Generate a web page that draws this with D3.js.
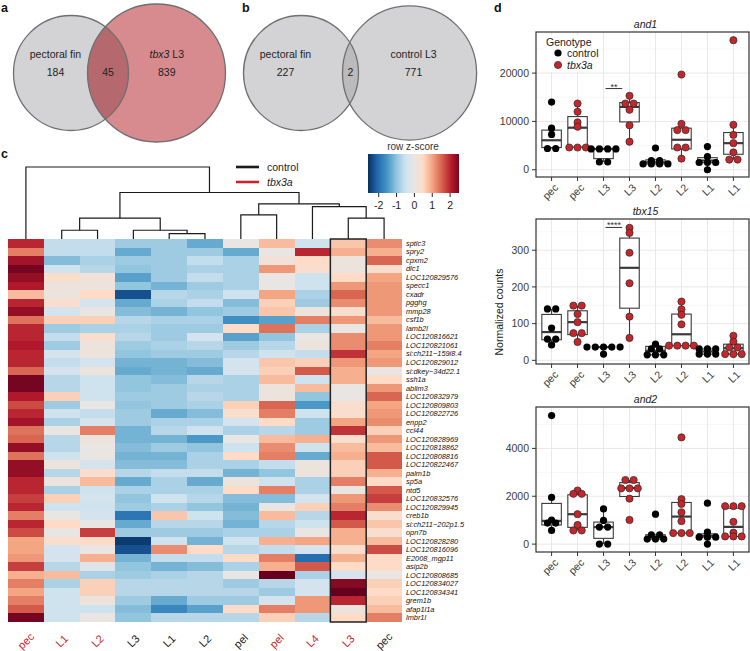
<!DOCTYPE html>
<html>
<head>
<meta charset="utf-8">
<style>
    body { margin: 0; background: #fff; }
    svg { display: block; font-family: 'Liberation Sans', Arial, Helvetica, sans-serif; }
</style>
</head>
<body>
<svg width="750" height="651"></svg>

<script src="https://d3js.org/d3.v7.min.js"></script>
<script>
    // ---------- data ----------
    // venn diagrams: [left only, shared, right only]
    const vennSetsA = ["pectoral fin", "tbx3 L3"];
    const vennCountsA = [184, 45, 839];
    const vennSetsB = ["pectoral fin", "control L3"];
    const vennCountsB = [227, 2, 771];

    // heatmap
    const heatCols = ["pec", "L1", "L2", "L3", "L1", "L2", "pel", "pel", "L4", "L3", "pec"];
    const heatGeno = ["tbx3a", "tbx3a", "tbx3a", "control", "control", "control", "control", "tbx3a", "tbx3a", "tbx3a", "control"];
    const heatGenes = ["sptlc3", "spry2", "cpxm2", "dlc1", "LOC120829576", "specc1", "cxadr", "pgghg", "mmp28", "csf1b",
        "lamb2l", "LOC120816621", "LOC120821061", "si:ch211\u2212159i8.4", "LOC120829012", "si:dkey\u221234d22.1", "ssh1a",
        "ablim3", "LOC120832979", "LOC120809803", "LOC120822726", "enpp2", "ccl44", "LOC120828969", "LOC120818862",
        "LOC120808816", "LOC120822467", "palm1b", "sp5a", "ntd5", "LOC120832576", "LOC120829945", "creb1b",
        "si:ch211\u2212202p1.5", "opn7b", "LOC120828280", "LOC120816096", "E2008_mgp11", "asip2b", "LOC120808685",
        "LOC120834027", "LOC120834341", "grem1b", "afap1l1a", "lmbr1l"];
    const zScores = [
        [2.0, -0.6, -0.6, -0.9, -0.9, -1.3, 0.0, 0.8, -0.5, 0.7, 1.2],
        [1.3, -0.6, -0.6, -1.3, -0.9, -0.9, -1.3, 0.0, 2.0, 0.9, 0.9],
        [2.2, -1.1, -0.8, -0.9, -0.9, -0.6, -0.8, 0.2, 0.5, 0.1, 1.5],
        [2.5, -0.5, -0.7, -1.0, -0.9, -0.8, -0.8, 1.1, 0.4, 0.1, 0.4],
        [2.3, 0.4, 0.2, -1.4, -0.9, -0.6, -0.8, 0.0, -0.5, 0.5, 1.0],
        [2.1, 0.1, 0.1, -1.0, -1.2, -0.9, -0.8, 0.0, -0.5, 1.1, 1.1],
        [0.8, 0.1, 0.5, -2.3, -0.7, -0.8, -0.5, 1.0, -0.8, 1.5, 1.1],
        [2.0, 0.4, -0.4, -1.3, -0.8, -0.6, -1.1, 0.6, -0.9, 1.2, 1.1],
        [2.3, -0.4, 0.0, -1.1, -1.2, -1.0, -0.9, 0.7, 0.1, 0.4, 1.1],
        [1.4, 0.6, 0.6, -0.7, -0.8, -0.8, -1.6, -1.4, 1.3, 1.1, 0.8],
        [2.0, -0.9, -0.8, -0.8, -0.9, -0.9, 0.5, 1.4, -0.8, 0.0, 1.1],
        [2.0, -0.6, 0.4, -0.7, -0.9, -0.4, -1.4, -1.0, 0.0, 1.2, 1.1],
        [2.1, -0.9, 0.1, -0.9, -0.8, -0.7, -0.9, -0.7, 0.1, 1.2, 1.3],
        [2.0, -0.4, 0.1, -1.0, -0.9, -0.9, -0.7, -0.5, -0.6, 1.9, 1.0],
        [2.0, -0.6, -0.4, -1.2, -1.2, -1.1, -0.4, 0.7, 0.6, 1.1, 1.1],
        [1.5, -0.4, 0.1, -1.3, -1.2, -1.3, -0.4, 0.6, 1.6, 0.9, 0.0],
        [2.5, -0.7, -0.5, -1.0, -1.1, -0.7, -0.8, 0.8, -0.5, 0.9, 0.5],
        [2.5, -0.7, -0.5, -1.0, -0.9, -0.8, -0.8, 0.1, 0.8, 0.0, 1.1],
        [2.1, 0.6, -0.5, -0.9, -0.9, -0.7, -0.8, 0.1, -1.0, 0.0, 1.5],
        [1.7, -0.9, 0.0, -1.0, -0.9, -0.8, 0.6, 1.5, -1.5, 0.4, 1.0],
        [2.0, -0.5, -0.6, -0.9, -1.3, -1.1, 0.4, 1.3, -0.5, 0.4, 1.1],
        [2.2, -0.8, -0.4, -0.9, -0.8, -0.8, -0.4, 0.5, -0.9, 1.0, 1.2],
        [1.4, 0.0, 1.3, -1.2, -0.7, -0.5, -0.8, -0.7, -0.9, 1.9, 0.6],
        [1.5, -0.7, 0.1, -1.2, -1.2, -1.5, 0.0, 0.8, 0.9, 0.4, 1.1],
        [2.3, -0.7, 0.0, -1.1, -0.9, -1.0, -0.5, 1.2, -0.5, 0.8, 0.8],
        [1.4, -0.5, 0.0, -1.2, -1.2, -0.8, 0.5, 1.3, -1.3, 0.9, 1.6],
        [2.3, 0.1, -0.4, -1.1, -1.1, -0.8, -0.8, -0.6, 0.1, 0.6, 1.6],
        [2.3, -0.7, 0.4, -0.7, -0.6, -0.6, -1.2, -1.0, 0.1, 0.6, 0.9],
        [2.0, 0.1, 0.8, -1.3, -0.8, -1.3, 0.1, -0.5, -0.8, 1.3, 0.5],
        [2.0, -0.8, -0.5, -0.8, -0.8, -0.8, 0.5, 1.3, -0.8, 0.0, 1.6],
        [1.8, 0.6, -0.4, -1.0, -0.5, -0.7, -1.1, -1.1, -0.4, 1.1, 1.8],
        [2.0, -0.5, -0.5, -0.9, -0.8, -1.0, -1.2, 0.0, 0.6, 1.3, 1.2],
        [1.3, 0.0, -0.4, -1.9, 0.7, -0.5, -1.1, 0.8, -0.7, 2.0, 0.4],
        [2.0, 0.5, 0.0, -1.3, -0.7, -0.7, -1.2, -0.7, -0.5, 1.6, 0.7],
        [1.7, 0.0, 1.8, -0.9, -0.9, -0.9, -0.8, -0.8, 0.0, 0.9, 0.4],
        [1.0, 0.4, 0.5, -2.5, -0.5, -1.2, -0.5, 0.9, 1.0, 0.9, 0.8],
        [1.0, -0.4, 0.0, -2.3, 1.2, 0.5, -0.7, -0.6, -0.4, 0.4, 1.7],
        [1.1, -0.4, 0.9, -1.2, -0.6, -0.6, 0.5, 1.3, -2.0, 0.9, 0.5],
        [1.8, -0.7, -0.2, -1.0, -1.2, -1.1, -0.8, 0.9, 1.6, 0.5, 0.5],
        [0.9, 0.8, -0.8, -0.9, -0.8, -0.7, 0.0, 2.6, -0.8, -0.4, 0.0],
        [1.3, -0.8, 0.6, -0.7, -0.7, -0.7, -0.9, -0.7, -0.4, 2.4, 0.6],
        [1.0, -0.5, 0.6, -0.7, -0.7, -0.7, -0.7, -0.9, -0.4, 2.6, 0.5],
        [1.3, -0.5, 0.1, -0.9, -1.3, -0.9, -0.9, -0.4, 1.1, 2.0, 0.6],
        [1.6, -0.5, -0.5, -1.1, -1.7, -1.4, 0.5, 1.3, 1.1, 0.1, 0.8],
        [2.5, -0.5, 0.0, -1.0, -0.7, -0.7, -0.7, 0.6, -0.7, 0.5, 1.3]
    ];
    // column dendrogram, hclust style: negative = leaf (column), positive = earlier merge
    const colMerges = [
        [-5, -6, 5.3], [-2, -3, 8.7], [-4, 1, 8.7], [2, 3, 20.7], [-10, -11, 20.7],
        [-7, -8, 24], [-9, 5, 32.3], [6, 7, 35], [4, 8, 46.3], [-1, 9, 71.7]
    ];
    const zTicks = [-2, -1, 0, 1, 2];

    // panel d
    const dGenes = ["and1", "tbx15", "and2"];
    const dGroups = ["pec", "pec", "L3", "L3", "L2", "L2", "L1", "L1"];
    const dGeno = ["control", "tbx3a", "control", "tbx3a", "control", "tbx3a", "control", "tbx3a"];
    const and1Points = [
        [14000, 8600, 7300, 4400, 4400],
        [13700, 12000, 9800, 8900, 4600, 4600, 4600],
        [4300, 4300, 4300, 4300, 1600, 1600],
        [15300, 13700, 13700, 12400, 9200, 5800],
        [4500, 1900, 1900, 1200, 1200, 1200, 1200],
        [19700, 9500, 8200, 8200, 4600, 4600, 2300],
        [4800, 2700, 1500, 1500, 1500, 0],
        [26800, 9300, 7200, 5500, 3600, 2100, 2100]
    ];
    // [lower whisker, q1, median, q3, upper whisker]
    const and1Box = [
        [4400, 4600, 6100, 8200, 8600], [4600, 4700, 8700, 11000, 13700],
        [1600, 2300, 4300, 4300, 4300], [5800, 9900, 13000, 13900, 15300],
        [1200, 1200, 1550, 2050, 2100], [2300, 4300, 6200, 8600, 9500],
        [0, 1450, 1900, 2500, 2700], [2100, 3200, 5500, 7700, 9300]
    ];
    const tbx15Points = [
        [140, 140, 88, 58, 58, 42],
        [149, 149, 126, 104, 74, 74, 50],
        [36, 36, 36, 36, 36, 17],
        [361, 347, 293, 210, 119, 61],
        [44, 31, 31, 15, 15, 15],
        [160, 139, 124, 98, 40, 40, 40, 40],
        [31, 31, 31, 17, 17, 17],
        [67, 51, 35, 35, 17, 17, 17]
    ];
    const tbx15Box = [
        [42, 56, 77, 125, 140], [50, 70, 104, 135, 149],
        [36, 36, 36, 36, 36], [61, 142, 252, 333, 361],
        [15, 15, 26, 38, 44], [40, 40, 71, 126, 160],
        [17, 17, 24, 31, 31], [17, 17, 33, 44, 67]
    ];
    const and2Points = [
        [5370, 1950, 1000, 880, 880, 570],
        [2240, 2100, 2100, 1250, 800, 570, 570],
        [1470, 990, 710, 710, 0, 0],
        [2680, 2680, 2330, 2330, 2330, 1900, 1010],
        [1250, 390, 390, 210, 210, 210],
        [4460, 1880, 1680, 1330, 960, 460, 460, 460],
        [1710, 500, 290, 290, 290, 0],
        [1650, 1550, 1550, 930, 480, 320, 320, 320]
    ];
    const and2Box = [
        [570, 800, 970, 1700, 1950], [570, 700, 1250, 2060, 2240],
        [0, 240, 710, 920, 1470], [1900, 1990, 2340, 2570, 2680],
        [210, 210, 290, 390, 390], [460, 460, 1150, 1740, 1880],
        [0, 290, 350, 430, 500], [320, 320, 720, 1500, 1650]
    ];
    const dDomains = [[-1500, 28500], [-10, 385], [-330, 5730]];
    const dTicks = [[0, 10000, 20000], [0, 100, 200, 300], [0, 2000, 4000]];
    const dMinor = [[5000, 15000, 25000], [50, 150, 250, 350], [1000, 3000, 5000]];
    const dSig = [{ gene: 0, group: 2, label: "**", value: 16800 }, { gene: 1, group: 2, label: "****", value: 362 }];

    // ---------- setup ----------
    const svg = d3.select("svg");
    const RED = "#c8252b";
    const genoColor = g => g === "tbx3a" ? RED : "#1a1a1a";

    svg.append("rect").attr("width", 750).attr("height", 651).attr("fill", "#fff");

    // panel letters
    [["a", 1, 12], ["b", 242, 12], ["c", 1, 158], ["d", 494, 12]].forEach(([t, x, y]) => {
        svg.append("text").attr("x", x).attr("y", y).attr("font-size", 12.5)
            .attr("font-weight", "bold").attr("fill", "#111").text(t);
    });

    // ---------- VENN ----------
    let rScale = d3.scaleLinear().domain([229, 884]).range([57.5, 69]);
    let depthScale = d3.scaleLinear().domain([2, 45]).range([16, 41]);

    function drawVenn(sets, counts, cx1, fills, overlapFill, id) {
        let g = svg.append("g");
        let cy = 73;
        let r1 = rScale(counts[0] + counts[1]);
        let r2 = rScale(counts[1] + counts[2]);
        let cx2 = cx1 + r1 + r2 - depthScale(counts[1]);

        g.append("clipPath").attr("id", id).append("circle")
            .attr("cx", cx1).attr("cy", cy).attr("r", r1);
        g.append("circle").attr("cx", cx1).attr("cy", cy).attr("r", r1).attr("fill", fills[0]);
        g.append("circle").attr("cx", cx2).attr("cy", cy).attr("r", r2).attr("fill", fills[1]);
        g.append("circle").attr("cx", cx2).attr("cy", cy).attr("r", r2)
            .attr("fill", overlapFill).attr("clip-path", "url(#" + id + ")");
        [[cx1, r1], [cx2, r2]].forEach(([cx, r]) => {
            g.append("circle").attr("cx", cx).attr("cy", cy).attr("r", r)
                .attr("fill", "none").attr("stroke", "#6f6f6f").attr("stroke-width", 1.3);
        });

        let xl = cx1 - r1 * 0.27;
        let xm = ((cx2 - r2) + (cx1 + r1)) / 2;
        let xr = (cx2 + ((cx1 + r1) + (cx2 + r2)) / 2) / 2;

        let txt = (x, y) => g.append("text").attr("x", x).attr("y", y).attr("dy", "0.35em")
            .attr("text-anchor", "middle").attr("font-size", 10.5).attr("fill", "#222");

        txt(xl, 54).text(sets[0]);
        let right = txt(xr, 54);
        let parts = sets[1].split(" ");
        if (parts[0].startsWith("tbx")) {
            right.append("tspan").attr("font-style", "italic").text(parts[0]);
            right.append("tspan").text(" " + parts.slice(1).join(" "));
        } else {
            right.text(sets[1]);
        }
        txt(xl, 72).text(counts[0]);
        txt(xm, 72).text(counts[1]);
        txt(xr, 72).text(counts[2]);
    }

    drawVenn(vennSetsA, vennCountsA, 71, ["#d3d3d5", "#d88b8f"], "#b5696e", "clipA");
    drawVenn(vennSetsB, vennCountsB, 301, ["#d3d3d5", "#d3d3d5"], "#bbbbbd", "clipB");

    // ---------- HEATMAP ----------
    let heatTop = 239, heatBottom = 622;
    let colX = d3.scaleBand().domain(d3.range(heatCols.length)).range([8, 402]);
    let rowY = d3.scaleBand().domain(heatGenes).range([heatTop, heatBottom]);

    let zColor = d3.scaleLinear()
        .domain([-2.6, -2.1, -1.55, -1.0, -0.5, 0, 0.5, 1.0, 1.55, 2.1, 2.6])
        .range(["#053061", "#2166ac", "#4393c3", "#92c5de", "#cfe3ef", "#e9e5e3",
            "#fddbc7", "#f4a582", "#d6604d", "#b2182b", "#67001f"])
        .clamp(true);

    let cells = [];
    zScores.forEach((row, i) => row.forEach((z, j) => cells.push({ gene: heatGenes[i], col: j, z: z })));

    svg.append("g").selectAll("rect")
        .data(cells)
        .join("rect")
        .attr("x", d => colX(d.col))
        .attr("y", d => rowY(d.gene))
        .attr("width", colX.bandwidth() + 0.3)
        .attr("height", rowY.bandwidth() + 0.3)
        .attr("fill", d => zColor(d.z))
        .attr("shape-rendering", "crispEdges");

    // highlighted column (tbx3a L3)
    svg.append("rect")
        .attr("x", colX(9)).attr("y", heatTop)
        .attr("width", colX.bandwidth()).attr("height", heatBottom - heatTop)
        .attr("fill", "none").attr("stroke", "#222").attr("stroke-width", 1.5);

    // gene labels
    svg.append("g").selectAll("text")
        .data(heatGenes)
        .join("text")
        .attr("x", 406)
        .attr("y", d => rowY(d) + rowY.bandwidth() / 2)
        .attr("dy", "0.35em")
        .attr("font-size", 7.4)
        .attr("font-style", "italic")
        .attr("fill", "#111")
        .text(d => d);

    // column labels
    svg.append("g").selectAll("text")
        .data(heatCols)
        .join("text")
        .attr("transform", (d, i) => `translate(${colX(i) + colX.bandwidth() / 2},641) rotate(-45)`)
        .attr("text-anchor", "middle")
        .attr("dy", "0.35em")
        .attr("font-size", 11)
        .attr("fill", (d, i) => genoColor(heatGeno[i]))
        .text(d => d);

    // dendrogram
    let hY = d3.scaleLinear().domain([0, 71.7]).range([heatTop, 167]);
    let nodes = [];
    let nodePos = id => id < 0
        ? { x: colX(-id - 1) + colX.bandwidth() / 2, h: 0 }
        : nodes[id - 1];

    let dendro = svg.append("g");
    colMerges.forEach(([a, b, h]) => {
        let A = nodePos(a), B = nodePos(b);
        let p = d3.path();
        p.moveTo(A.x, hY(A.h));
        p.lineTo(A.x, hY(h));
        p.lineTo(B.x, hY(h));
        p.lineTo(B.x, hY(B.h));
        dendro.append("path").attr("d", p.toString())
            .attr("fill", "none").attr("stroke", "#1a1a1a").attr("stroke-width", 1.2);
        nodes.push({ x: (A.x + B.x) / 2, h: h });
    });

    // heatmap legend: genotype lines
    ["control", "tbx3a"].forEach((g, i) => {
        let y = 167 + i * 15;
        svg.append("line").attr("x1", 236).attr("x2", 259).attr("y1", y).attr("y2", y)
            .attr("stroke", genoColor(g)).attr("stroke-width", 2.6);
        svg.append("text").attr("x", 267).attr("y", y).attr("dy", "0.35em")
            .attr("font-size", 10.5).attr("fill", "#222")
            .attr("font-style", g === "tbx3a" ? "italic" : "normal").text(g);
    });

    // colour bar
    let zX = d3.scaleLinear().domain([-2.6, 2.5]).range([368, 459]);
    let grad = svg.append("defs").append("linearGradient").attr("id", "zgrad");
    d3.range(0, 1.0001, 0.02).forEach(t => {
        grad.append("stop").attr("offset", t)
            .attr("stop-color", zColor(zX.invert(368 + t * 91)));
    });
    svg.append("rect").attr("x", 368).attr("y", 154).attr("width", 91).attr("height", 39)
        .attr("fill", "url(#zgrad)");
    svg.append("text").attr("x", 413).attr("y", 150).attr("text-anchor", "middle")
        .attr("font-size", 10).attr("fill", "#333").text("row z-score");
    let zAxis = svg.append("g");
    zTicks.forEach(t => {
        zAxis.append("line").attr("x1", zX(t)).attr("x2", zX(t)).attr("y1", 193).attr("y2", 197)
            .attr("stroke", "#222");
        zAxis.append("text").attr("x", zX(t)).attr("y", 209).attr("text-anchor", "middle")
            .attr("font-size", 10.5).attr("fill", "#222").text(t < 0 ? "-" + Math.abs(t) : t);
    });

    // ---------- PANEL d: box plots ----------
    let dPoints = [and1Points, tbx15Points, and2Points];
    let dBoxes = [and1Box, tbx15Box, and2Box];
    let panelTops = [32, 219, 407];
    let panelH = 145;
    let pLeft = 536, pRight = 749;
    let dotR = 3.6;

    let xD = d3.scalePoint().domain(d3.range(dGroups.length)).range([pLeft, pRight]).padding(0.6);
    let step = xD.step();

    // dotplot-style stacking: (nearly) equal values share a row, centred on the group
    function stack(values, y) {
        let pts = values.map(v => ({ v: v, py: y(v) })).sort((a, b) => a.py - b.py);
        let bins = [];
        pts.forEach(p => {
            let last = bins[bins.length - 1];
            if (last && Math.abs(p.py - last[0].py) < 0.75 * dotR) last.push(p);
            else bins.push([p]);
        });
        bins.forEach(b => {
            let yy = d3.mean(b, d => d.py);
            b.forEach((p, i) => { p.y = yy; p.dx = (i - (b.length - 1) / 2) * 2.3 * dotR; });
        });
        return pts;
    }

    dGenes.forEach((gene, gi) => {
        let top = panelTops[gi], bottom = top + panelH;
        let y = d3.scaleLinear().domain(dDomains[gi]).range([bottom, top]);
        let g = svg.append("g");

        // title
        g.append("text").attr("x", (pLeft + pRight) / 2 + 3).attr("y", top - 4)
            .attr("text-anchor", "middle").attr("font-size", 10.5).attr("font-style", "italic")
            .attr("fill", "#1a1a1a").text(gene);

        // grid
        dMinor[gi].forEach(v => {
            g.append("line").attr("x1", pLeft).attr("x2", pRight).attr("y1", y(v)).attr("y2", y(v))
                .attr("stroke", "#f2f2f2").attr("stroke-width", 0.6);
        });
        dTicks[gi].forEach(v => {
            g.append("line").attr("x1", pLeft).attr("x2", pRight).attr("y1", y(v)).attr("y2", y(v))
                .attr("stroke", "#e8e8e8").attr("stroke-width", 1);
        });
        xD.domain().forEach(i => {
            g.append("line").attr("x1", xD(i)).attr("x2", xD(i)).attr("y1", top).attr("y2", bottom)
                .attr("stroke", "#e8e8e8").attr("stroke-width", 1);
        });

        // boxes
        let bw = step * 0.75;
        dBoxes[gi].forEach((b, i) => {
            let cx = xD(i);
            let [lo, q1, med, q3, hi] = b;
            g.append("line").attr("x1", cx).attr("x2", cx).attr("y1", y(q3)).attr("y2", y(hi))
                .attr("stroke", "#3a3a3a").attr("stroke-width", 1.1);
            g.append("line").attr("x1", cx).attr("x2", cx).attr("y1", y(q1)).attr("y2", y(lo))
                .attr("stroke", "#3a3a3a").attr("stroke-width", 1.1);
            g.append("rect").attr("x", cx - bw / 2).attr("y", y(q3))
                .attr("width", bw).attr("height", Math.max(0, y(q1) - y(q3)))
                .attr("fill", "#fff").attr("stroke", "#3a3a3a").attr("stroke-width", 1.1);
            g.append("line").attr("x1", cx - bw / 2).attr("x2", cx + bw / 2)
                .attr("y1", y(med)).attr("y2", y(med))
                .attr("stroke", "#3a3a3a").attr("stroke-width", 2.2);
        });

        // points
        dPoints[gi].forEach((vals, i) => {
            let isT = dGeno[i] === "tbx3a";
            g.append("g").selectAll("circle")
                .data(stack(vals, y))
                .join("circle")
                .attr("cx", d => xD(i) + d.dx)
                .attr("cy", d => d.y)
                .attr("r", dotR)
                .attr("fill", isT ? RED : "#000")
                .attr("stroke", isT ? "#2a2a2a" : "none")
                .attr("stroke-width", 0.7);
        });

        // significance
        dSig.filter(s => s.gene === gi).forEach(s => {
            let x1 = xD(s.group) + 2, x2 = xD(s.group) + step * 0.72;
            g.append("line").attr("x1", x1).attr("x2", x2).attr("y1", y(s.value)).attr("y2", y(s.value))
                .attr("stroke", "#333").attr("stroke-width", 1);
            g.append("text").attr("x", (x1 + x2) / 2).attr("y", y(s.value) + 1)
                .attr("text-anchor", "middle").attr("font-size", 9).attr("fill", "#333").text(s.label);
        });

        // border
        g.append("rect").attr("x", pLeft).attr("y", top).attr("width", pRight - pLeft).attr("height", panelH)
            .attr("fill", "none").attr("stroke", "#333").attr("stroke-width", 1.2);

        // y axis
        dTicks[gi].forEach(v => {
            g.append("line").attr("x1", pLeft - 4).attr("x2", pLeft).attr("y1", y(v)).attr("y2", y(v))
                .attr("stroke", "#333");
            g.append("text").attr("x", pLeft - 7).attr("y", y(v)).attr("dy", "0.35em")
                .attr("text-anchor", "end").attr("font-size", 10.5).attr("fill", "#3a3a3a").text(v);
        });

        // x axis
        dGroups.forEach((lab, i) => {
            g.append("line").attr("x1", xD(i)).attr("x2", xD(i)).attr("y1", bottom).attr("y2", bottom + 4)
                .attr("stroke", "#333");
            g.append("text")
                .attr("transform", `translate(${xD(i) + 2},${bottom + 6}) rotate(-45)`)
                .attr("text-anchor", "end").attr("dy", "0.72em")
                .attr("font-size", 10.5).attr("fill", "#3a3a3a").text(lab);
        });

        // legend (first panel only)
        if (gi === 0) {
            let lg = g.append("g");
            lg.append("rect").attr("x", 543).attr("y", 35).attr("width", 56).attr("height", 37).attr("fill", "#fff");
            lg.append("text").attr("x", 546).attr("y", 45.5).attr("font-size", 10.5).attr("fill", "#1a1a1a").text("Genotype");
            ["control", "tbx3a"].forEach((k, j) => {
                let yy = 53 + j * 12;
                lg.append("circle").attr("cx", 558).attr("cy", yy).attr("r", dotR)
                    .attr("fill", k === "tbx3a" ? RED : "#000")
                    .attr("stroke", k === "tbx3a" ? "#2a2a2a" : "none").attr("stroke-width", 0.7);
                lg.append("text").attr("x", 567).attr("y", yy).attr("dy", "0.35em")
                    .attr("font-size", 10.5).attr("fill", "#1a1a1a")
                    .attr("font-style", k === "tbx3a" ? "italic" : "normal").text(k);
            });
        }
    });

    // shared y-axis title
    svg.append("text")
        .attr("transform", "translate(503,312) rotate(-90)")
        .attr("text-anchor", "middle")
        .attr("font-size", 10.5).attr("fill", "#1a1a1a")
        .text("Normalized counts");
</script>
</body>
</html>
